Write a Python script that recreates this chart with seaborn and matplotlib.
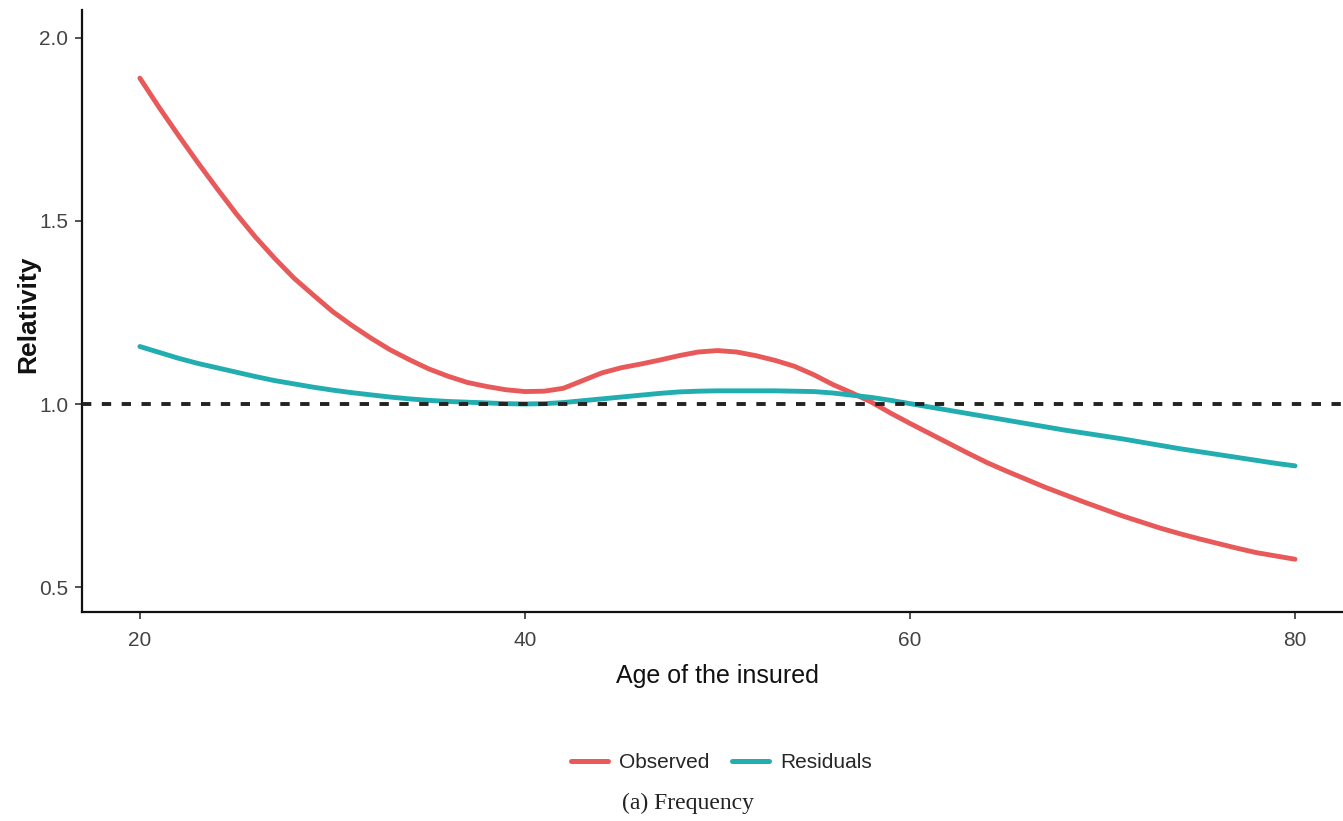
import numpy as np
import pandas as pd
import matplotlib
matplotlib.use("Agg")
import matplotlib.pyplot as plt
import seaborn as sns
from matplotlib.lines import Line2D

ages = list(range(20, 81))
observed = [1.89, 1.81, 1.734, 1.66, 1.589, 1.52, 1.456, 1.398, 1.344, 1.298,
            1.253, 1.215, 1.180, 1.148, 1.121, 1.096, 1.076, 1.059, 1.048, 1.039,
            1.034, 1.035, 1.043, 1.064, 1.085, 1.099, 1.109, 1.120, 1.132, 1.142,
            1.146, 1.142, 1.132, 1.119, 1.103, 1.080, 1.053, 1.030, 1.005, 0.975,
            0.947, 0.920, 0.893, 0.866, 0.840, 0.817, 0.795, 0.773, 0.753, 0.733,
            0.714, 0.695, 0.678, 0.661, 0.646, 0.632, 0.619, 0.606, 0.594, 0.585,
            0.576]
residuals = [1.157, 1.141, 1.125, 1.111, 1.099, 1.087, 1.075, 1.064, 1.055, 1.046,
             1.038, 1.031, 1.025, 1.019, 1.014, 1.010, 1.007, 1.005, 1.003, 1.001,
             1.000, 1.001, 1.004, 1.009, 1.014, 1.019, 1.024, 1.029, 1.033, 1.035,
             1.036, 1.036, 1.036, 1.036, 1.035, 1.034, 1.030, 1.024, 1.018, 1.010,
             1.001, 0.992, 0.983, 0.974, 0.965, 0.956, 0.947, 0.938, 0.929, 0.921,
             0.913, 0.905, 0.896, 0.887, 0.878, 0.870, 0.862, 0.854, 0.846, 0.838,
             0.831]
series_names = ["Observed", "Residuals"]
x_ticks = [20, 40, 60, 80]
y_ticks = [0.5, 1.0, 1.5, 2.0]
reference_level = 1.0

df = pd.DataFrame({
    "age": ages * 2,
    "value": observed + residuals,
    "series": [series_names[0]] * len(ages) + [series_names[1]] * len(ages),
})

sns.set_theme(style="ticks")
plt.rcParams["font.family"] = ["Liberation Sans", "DejaVu Sans"]

palette = {"Observed": "#E85A5A", "Residuals": "#22AEB0"}

fig = plt.figure(figsize=(13.43, 8.21), dpi=100)
ax = fig.add_axes([0.061, 0.2546, 0.939, 0.7334])

sns.lineplot(data=df, x="age", y="value", hue="series", palette=palette,
             linewidth=3.5, ax=ax, legend=False, sort=True)
ax.axhline(reference_level, color="#222222", linewidth=2.8,
           linestyle=(0, (2.4, 2.7)), zorder=5)

ax.set_xlim(16.99, 82.49)
ax.set_ylim(0.432, 2.0765)
ax.set_xticks(x_ticks)
ax.set_yticks(y_ticks)
ax.set_xticklabels([str(t) for t in x_ticks])
ax.set_yticklabels([f"{t:.1f}" for t in y_ticks])
ax.tick_params(axis="both", colors="#333333", labelcolor="#444444",
               labelsize=15, length=5, width=1.2)
ax.tick_params(axis="x", pad=9)
ax.tick_params(axis="y", pad=5)
for s in ["top", "right"]:
    ax.spines[s].set_visible(False)
for s in ["left", "bottom"]:
    ax.spines[s].set_color("#111111")
    ax.spines[s].set_linewidth(1.6)

ax.set_xlabel("Age of the insured", fontsize=18, color="#111111")
ax.xaxis.set_label_coords(0.504, -0.1063)
ax.xaxis.label.set_va("center")
ax.set_ylabel("Relativity", fontsize=19, color="#111111", fontweight="bold")
ax.yaxis.set_label_coords(-0.0428, 0.494)
ax.yaxis.label.set_va("center")

handles = [Line2D([0], [0], color=palette[n], linewidth=3.6) for n in series_names]
fig.legend(handles, series_names, loc="center", bbox_to_anchor=(0.537, 0.071),
           ncol=2, frameon=False, fontsize=15, handlelength=1.8,
           columnspacing=1.1, handletextpad=0.5)

fig.text(0.512, 0.022, "(a) Frequency", ha="center", va="center", fontsize=17,
         family=["Liberation Serif", "DejaVu Serif"], color="#222222")

fig.savefig("out.png", dpi=100)
